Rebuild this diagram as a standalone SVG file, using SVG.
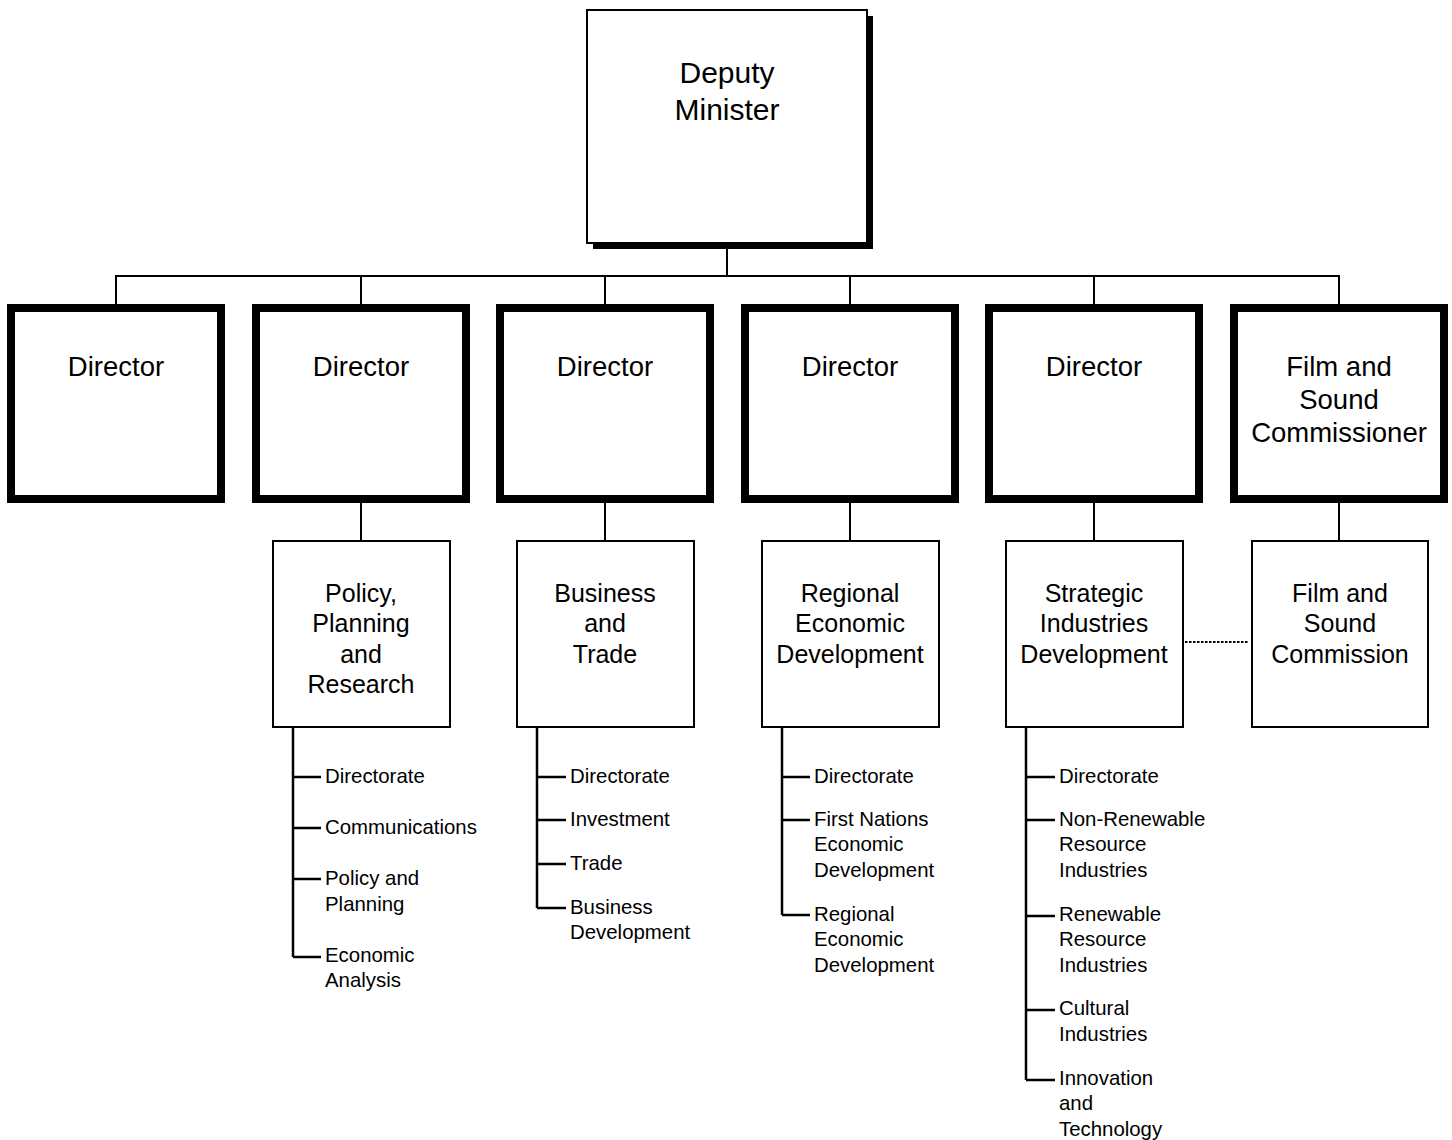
<svg xmlns="http://www.w3.org/2000/svg" width="1452" height="1140" viewBox="0 0 1452 1140">
<style>
text{font-family:"Liberation Sans",Arial,sans-serif;fill:#000}
.dm{font-size:30px;text-anchor:middle}
.dir{font-size:27.5px;text-anchor:middle}
.sub{font-size:25px;text-anchor:middle}
.item{font-size:20.4px}
.thick{fill:#fff;stroke:#000;stroke-width:8}
.thin{fill:#fff;stroke:#000;stroke-width:2}
.ln{stroke:#000;stroke-width:2;fill:none}
.tree{stroke:#000;stroke-width:2.5;fill:none}
.dot{stroke:#000;stroke-width:2;stroke-dasharray:2.5 1.5;fill:none}
</style>
<rect width="1452" height="1140" fill="#fff"/>
<g id="connectors">
<line class="ln" x1="727" y1="249" x2="727" y2="276"/>
<line class="ln" x1="115" y1="276" x2="1340" y2="276"/>
<line class="ln" x1="116" y1="276" x2="116" y2="304"/>
<line class="ln" x1="361" y1="276" x2="361" y2="304"/>
<line class="ln" x1="605" y1="276" x2="605" y2="304"/>
<line class="ln" x1="850" y1="276" x2="850" y2="304"/>
<line class="ln" x1="1094" y1="276" x2="1094" y2="304"/>
<line class="ln" x1="1339" y1="276" x2="1339" y2="304"/>
<line class="ln" x1="361" y1="503" x2="361" y2="540"/>
<line class="ln" x1="605" y1="503" x2="605" y2="540"/>
<line class="ln" x1="850" y1="503" x2="850" y2="540"/>
<line class="ln" x1="1094" y1="503" x2="1094" y2="540"/>
<line class="ln" x1="1339" y1="503" x2="1339" y2="540"/>
<line class="dot" x1="1185" y1="642" x2="1248" y2="642"/>
<path class="tree" d="M293 727V957M293 777H321M293 828H321M293 879H321M293 957H321"/>
<path class="tree" d="M537 727V908M537 777H566M537 820H566M537 864H566M537 908H566"/>
<path class="tree" d="M782 727V915M782 777H810M782 820H810M782 915H810"/>
<path class="tree" d="M1026 727V1080M1026 777H1055M1026 820H1055M1026 916H1055M1026 1010H1055M1026 1080H1055"/>
</g>
<g id="deputy-minister">
<rect x="593" y="16" width="280" height="233" fill="#000"/>
<rect class="thin" x="587" y="10" width="280" height="233"/>
<text class="dm" x="727" y="83">Deputy</text>
<text class="dm" x="727" y="120">Minister</text>
</g>
<g id="director-1">
<rect class="thick" x="11" y="308" width="210" height="191"/>
<text class="dir" x="116" y="376">Director</text>
</g>
<g id="director-2">
<rect class="thick" x="256" y="308" width="210" height="191"/>
<text class="dir" x="361" y="376">Director</text>
</g>
<g id="director-3">
<rect class="thick" x="500" y="308" width="210" height="191"/>
<text class="dir" x="605" y="376">Director</text>
</g>
<g id="director-4">
<rect class="thick" x="745" y="308" width="210" height="191"/>
<text class="dir" x="850" y="376">Director</text>
</g>
<g id="director-5">
<rect class="thick" x="989" y="308" width="210" height="191"/>
<text class="dir" x="1094" y="376">Director</text>
</g>
<g id="film-sound-commissioner">
<rect class="thick" x="1234" y="308" width="210" height="191"/>
<text class="dir" x="1339" y="376">Film and</text>
<text class="dir" x="1339" y="409">Sound</text>
<text class="dir" x="1339" y="442">Commissioner</text>
</g>
<g id="policy-planning-research">
<rect class="thin" x="273" y="541" width="177" height="186"/>
<text class="sub" x="361" y="602">Policy,</text>
<text class="sub" x="361" y="632">Planning</text>
<text class="sub" x="361" y="663">and</text>
<text class="sub" x="361" y="693">Research</text>
</g>
<g id="business-trade">
<rect class="thin" x="517" y="541" width="177" height="186"/>
<text class="sub" x="605" y="602">Business</text>
<text class="sub" x="605" y="632">and</text>
<text class="sub" x="605" y="663">Trade</text>
</g>
<g id="regional-economic-development">
<rect class="thin" x="762" y="541" width="177" height="186"/>
<text class="sub" x="850" y="602">Regional</text>
<text class="sub" x="850" y="632">Economic</text>
<text class="sub" x="850" y="663">Development</text>
</g>
<g id="strategic-industries-development">
<rect class="thin" x="1006" y="541" width="177" height="186"/>
<text class="sub" x="1094" y="602">Strategic</text>
<text class="sub" x="1094" y="632">Industries</text>
<text class="sub" x="1094" y="663">Development</text>
</g>
<g id="film-sound-commission">
<rect class="thin" x="1252" y="541" width="176" height="186"/>
<text class="sub" x="1340" y="602">Film and</text>
<text class="sub" x="1340" y="632">Sound</text>
<text class="sub" x="1340" y="663">Commission</text>
</g>
<g id="policy-items">
<text class="item" x="325" y="783">Directorate</text>
<text class="item" x="325" y="834">Communications</text>
<text class="item" x="325" y="885">Policy and</text>
<text class="item" x="325" y="911">Planning</text>
<text class="item" x="325" y="962">Economic</text>
<text class="item" x="325" y="987">Analysis</text>
</g>
<g id="business-items">
<text class="item" x="570" y="783">Directorate</text>
<text class="item" x="570" y="826">Investment</text>
<text class="item" x="570" y="870">Trade</text>
<text class="item" x="570" y="914">Business</text>
<text class="item" x="570" y="939">Development</text>
</g>
<g id="regional-items">
<text class="item" x="814" y="783">Directorate</text>
<text class="item" x="814" y="826">First Nations</text>
<text class="item" x="814" y="851">Economic</text>
<text class="item" x="814" y="877">Development</text>
<text class="item" x="814" y="921">Regional</text>
<text class="item" x="814" y="946">Economic</text>
<text class="item" x="814" y="972">Development</text>
</g>
<g id="strategic-items">
<text class="item" x="1059" y="783">Directorate</text>
<text class="item" x="1059" y="826">Non-Renewable</text>
<text class="item" x="1059" y="851">Resource</text>
<text class="item" x="1059" y="877">Industries</text>
<text class="item" x="1059" y="921">Renewable</text>
<text class="item" x="1059" y="946">Resource</text>
<text class="item" x="1059" y="972">Industries</text>
<text class="item" x="1059" y="1015">Cultural</text>
<text class="item" x="1059" y="1041">Industries</text>
<text class="item" x="1059" y="1085">Innovation</text>
<text class="item" x="1059" y="1110">and</text>
<text class="item" x="1059" y="1136">Technology</text>
</g>
</svg>
